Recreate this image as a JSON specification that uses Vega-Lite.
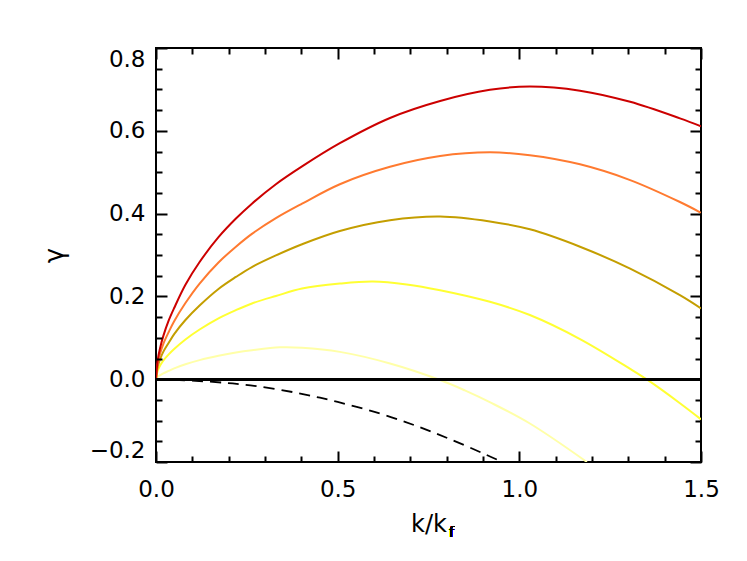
{
  "$schema": "https://vega.github.io/schema/vega-lite/v6.json",
  "width": 545,
  "height": 414,
  "autosize": "none",
  "padding": {"left": 156, "top": 48, "right": 46, "bottom": 99},
  "background": "white",
  "config": {
    "view": {"stroke": "black", "strokeWidth": 2},
    "axis": {
      "grid": false, "domain": false, "zindex": 2,
      "labelFont": "DejaVu Sans", "labelFontSize": 23, "labelColor": "black",
      "titleFont": "DejaVu Sans", "titleFontWeight": "normal", "titleColor": "black"
    }
  },
  "datasets": {
    "curves": [
      {"s": "c1", "k": 0, "g": 0}, {"s": "c1", "k": 0.005, "g": 0.048}, {"s": "c1", "k": 0.012, "g": 0.078}, {"s": "c1", "k": 0.02, "g": 0.104}, {"s": "c1", "k": 0.035, "g": 0.142}, {"s": "c1", "k": 0.05, "g": 0.172}, {"s": "c1", "k": 0.081, "g": 0.228}, {"s": "c1", "k": 0.12, "g": 0.283}, {"s": "c1", "k": 0.172, "g": 0.343}, {"s": "c1", "k": 0.22, "g": 0.388}, {"s": "c1", "k": 0.264, "g": 0.424}, {"s": "c1", "k": 0.33, "g": 0.471}, {"s": "c1", "k": 0.402, "g": 0.514}, {"s": "c1", "k": 0.506, "g": 0.57}, {"s": "c1", "k": 0.644, "g": 0.631}, {"s": "c1", "k": 0.782, "g": 0.672}, {"s": "c1", "k": 0.919, "g": 0.699}, {"s": "c1", "k": 1.029, "g": 0.707}, {"s": "c1", "k": 1.167, "g": 0.697}, {"s": "c1", "k": 1.305, "g": 0.67}, {"s": "c1", "k": 1.442, "g": 0.63}, {"s": "c1", "k": 1.5, "g": 0.611},
      {"s": "c2", "k": 0, "g": 0}, {"s": "c2", "k": 0.005, "g": 0.039}, {"s": "c2", "k": 0.012, "g": 0.064}, {"s": "c2", "k": 0.02, "g": 0.085}, {"s": "c2", "k": 0.035, "g": 0.114}, {"s": "c2", "k": 0.05, "g": 0.14}, {"s": "c2", "k": 0.081, "g": 0.184}, {"s": "c2", "k": 0.12, "g": 0.231}, {"s": "c2", "k": 0.172, "g": 0.282}, {"s": "c2", "k": 0.22, "g": 0.32}, {"s": "c2", "k": 0.264, "g": 0.351}, {"s": "c2", "k": 0.33, "g": 0.389}, {"s": "c2", "k": 0.402, "g": 0.424}, {"s": "c2", "k": 0.506, "g": 0.471}, {"s": "c2", "k": 0.644, "g": 0.513}, {"s": "c2", "k": 0.782, "g": 0.539}, {"s": "c2", "k": 0.919, "g": 0.548}, {"s": "c2", "k": 1.029, "g": 0.541}, {"s": "c2", "k": 1.167, "g": 0.519}, {"s": "c2", "k": 1.305, "g": 0.481}, {"s": "c2", "k": 1.442, "g": 0.428}, {"s": "c2", "k": 1.5, "g": 0.402},
      {"s": "c3", "k": 0, "g": 0}, {"s": "c3", "k": 0.005, "g": 0.031}, {"s": "c3", "k": 0.012, "g": 0.05}, {"s": "c3", "k": 0.02, "g": 0.066}, {"s": "c3", "k": 0.035, "g": 0.088}, {"s": "c3", "k": 0.05, "g": 0.109}, {"s": "c3", "k": 0.081, "g": 0.143}, {"s": "c3", "k": 0.12, "g": 0.178}, {"s": "c3", "k": 0.172, "g": 0.218}, {"s": "c3", "k": 0.22, "g": 0.247}, {"s": "c3", "k": 0.264, "g": 0.271}, {"s": "c3", "k": 0.33, "g": 0.299}, {"s": "c3", "k": 0.402, "g": 0.326}, {"s": "c3", "k": 0.506, "g": 0.358}, {"s": "c3", "k": 0.644, "g": 0.384}, {"s": "c3", "k": 0.782, "g": 0.393}, {"s": "c3", "k": 0.919, "g": 0.381}, {"s": "c3", "k": 1.029, "g": 0.362}, {"s": "c3", "k": 1.167, "g": 0.32}, {"s": "c3", "k": 1.305, "g": 0.267}, {"s": "c3", "k": 1.442, "g": 0.203}, {"s": "c3", "k": 1.5, "g": 0.171},
      {"s": "c4", "k": 0, "g": 0}, {"s": "c4", "k": 0.005, "g": 0.021}, {"s": "c4", "k": 0.012, "g": 0.034}, {"s": "c4", "k": 0.02, "g": 0.045}, {"s": "c4", "k": 0.035, "g": 0.06}, {"s": "c4", "k": 0.05, "g": 0.073}, {"s": "c4", "k": 0.081, "g": 0.096}, {"s": "c4", "k": 0.12, "g": 0.12}, {"s": "c4", "k": 0.172, "g": 0.147}, {"s": "c4", "k": 0.22, "g": 0.167}, {"s": "c4", "k": 0.264, "g": 0.183}, {"s": "c4", "k": 0.33, "g": 0.201}, {"s": "c4", "k": 0.402, "g": 0.219}, {"s": "c4", "k": 0.506, "g": 0.231}, {"s": "c4", "k": 0.597, "g": 0.236}, {"s": "c4", "k": 0.69, "g": 0.229}, {"s": "c4", "k": 0.782, "g": 0.215}, {"s": "c4", "k": 0.919, "g": 0.187}, {"s": "c4", "k": 1.029, "g": 0.155}, {"s": "c4", "k": 1.167, "g": 0.097}, {"s": "c4", "k": 1.305, "g": 0.025}, {"s": "c4", "k": 1.355, "g": -0.003}, {"s": "c4", "k": 1.442, "g": -0.058}, {"s": "c4", "k": 1.5, "g": -0.097},
      {"s": "c5", "k": 0, "g": 0}, {"s": "c5", "k": 0.005, "g": 0.006}, {"s": "c5", "k": 0.012, "g": 0.01}, {"s": "c5", "k": 0.02, "g": 0.014}, {"s": "c5", "k": 0.035, "g": 0.02}, {"s": "c5", "k": 0.05, "g": 0.026}, {"s": "c5", "k": 0.081, "g": 0.036}, {"s": "c5", "k": 0.12, "g": 0.046}, {"s": "c5", "k": 0.172, "g": 0.0565}, {"s": "c5", "k": 0.22, "g": 0.0645}, {"s": "c5", "k": 0.264, "g": 0.07}, {"s": "c5", "k": 0.341, "g": 0.077}, {"s": "c5", "k": 0.402, "g": 0.076}, {"s": "c5", "k": 0.506, "g": 0.066}, {"s": "c5", "k": 0.644, "g": 0.038}, {"s": "c5", "k": 0.782, "g": -0.002}, {"s": "c5", "k": 0.85, "g": -0.027}, {"s": "c5", "k": 0.92, "g": -0.056}, {"s": "c5", "k": 1.029, "g": -0.107}, {"s": "c5", "k": 1.186, "g": -0.2},
      {"s": "d", "k": 0, "g": 0}, {"s": "d", "k": 0.149, "g": -0.006}, {"s": "d", "k": 0.26, "g": -0.015}, {"s": "d", "k": 0.388, "g": -0.033}, {"s": "d", "k": 0.5, "g": -0.055}, {"s": "d", "k": 0.617, "g": -0.083}, {"s": "d", "k": 0.72, "g": -0.114}, {"s": "d", "k": 0.81, "g": -0.145}, {"s": "d", "k": 0.91, "g": -0.183}, {"s": "d", "k": 0.953, "g": -0.2}
    ]
  },
  "data": {"name": "curves"},
  "resolve": {"axis": {"x": "independent", "y": "independent"}},
  "layer": [
    {
      "transform": [{"filter": "datum.s === 'c5'"}],
      "mark": {"type": "line", "color": "#ffffa8", "strokeWidth": 2, "interpolate": "catmull-rom", "clip": true},
      "encoding": {
        "x": {"field": "k", "type": "quantitative", "scale": {"domain": [0, 1.5], "nice": false, "zero": false}, "axis": null},
        "y": {"field": "g", "type": "quantitative", "scale": {"domain": [-0.2, 0.8], "nice": false, "zero": false}, "axis": null}
      }
    },
    {
      "transform": [{"filter": "datum.s === 'c4'"}],
      "mark": {"type": "line", "color": "#ffff33", "strokeWidth": 2, "interpolate": "catmull-rom", "clip": true},
      "encoding": {
        "x": {"field": "k", "type": "quantitative", "axis": {"orient": "top", "zindex": 2, "values": [0.1,0.2,0.3,0.4,0.6,0.7,0.8,0.9,1.1,1.2,1.3,1.4], "ticks": true, "tickSize": -6, "tickColor": "#000000", "tickWidth": 2, "tickOpacity": 1, "labels": false, "title": ""}},
        "y": {"field": "g", "type": "quantitative", "axis": {"orient": "right", "zindex": 2, "values": [-0.15,-0.1,-0.05,0.05,0.1,0.15,0.25,0.3,0.35,0.45,0.5,0.55,0.65,0.7,0.75], "ticks": true, "tickSize": -6, "tickColor": "#000000", "tickWidth": 2, "tickOpacity": 1, "labels": false, "title": ""}}
      }
    },
    {
      "transform": [{"filter": "datum.s === 'c3'"}],
      "mark": {"type": "line", "color": "#c49e00", "strokeWidth": 2, "interpolate": "catmull-rom", "clip": true},
      "encoding": {
        "x": {"field": "k", "type": "quantitative", "axis": {"orient": "bottom", "zindex": 2, "values": [0.1,0.2,0.3,0.4,0.6,0.7,0.8,0.9,1.1,1.2,1.3,1.4], "ticks": true, "tickSize": -6, "tickColor": "#000000", "tickWidth": 2, "tickOpacity": 1, "labels": false, "title": ""}},
        "y": {"field": "g", "type": "quantitative", "axis": {"orient": "left", "zindex": 2, "values": [-0.15,-0.1,-0.05,0.05,0.1,0.15,0.25,0.3,0.35,0.45,0.5,0.55,0.65,0.7,0.75], "ticks": true, "tickSize": -6, "tickColor": "#000000", "tickWidth": 2, "tickOpacity": 1, "labels": false, "title": ""}}
      }
    },
    {
      "transform": [{"filter": "datum.s === 'c2'"}],
      "mark": {"type": "line", "color": "#ff7a30", "strokeWidth": 2, "interpolate": "catmull-rom", "clip": true},
      "encoding": {
        "x": {"field": "k", "type": "quantitative", "axis": {"orient": "top", "zindex": 2, "values": [0, 0.5, 1, 1.5], "ticks": true, "tickSize": -11, "tickColor": "#000000", "tickWidth": 2, "tickOpacity": 1, "labels": false, "title": ""}},
        "y": {"field": "g", "type": "quantitative", "axis": {"orient": "right", "zindex": 2, "values": [-0.2, 0, 0.2, 0.4, 0.6, 0.8], "ticks": true, "tickSize": -11, "tickColor": "#000000", "tickWidth": 2, "tickOpacity": 1, "labels": false, "title": ""}}
      }
    },
    {
      "transform": [{"filter": "datum.s === 'c1'"}],
      "mark": {"type": "line", "color": "#cc0000", "strokeWidth": 2, "interpolate": "catmull-rom", "clip": true},
      "encoding": {
        "x": {"field": "k", "type": "quantitative", "axis": {"orient": "bottom", "zindex": 2, "values": [0, 0.5, 1, 1.5], "format": ".1f", "ticks": true, "tickSize": -11, "tickColor": "#000000", "tickWidth": 2, "tickOpacity": 1, "labelFlush": false, "labelPadding": 27, "title": "k/k", "titleFontSize": 24, "titlePadding": 11}},
        "y": {"field": "g", "type": "quantitative", "axis": {"orient": "left", "zindex": 2, "values": [-0.2, 0, 0.2, 0.4, 0.6, 0.8], "format": ".1f", "ticks": true, "tickSize": -11, "tickColor": "#000000", "tickWidth": 2, "tickOpacity": 1, "labelPadding": 22, "labelFlush": true, "title": "γ", "titleFontSize": 26, "titlePadding": 22}}
      }
    },
    {
      "transform": [{"filter": "datum.s === 'd'"}],
      "mark": {"type": "line", "color": "black", "strokeWidth": 1.8, "strokeDash": [11, 7], "interpolate": "catmull-rom", "clip": true},
      "encoding": {
        "x": {"field": "k", "type": "quantitative", "axis": null},
        "y": {"field": "g", "type": "quantitative", "axis": null}
      }
    },
    {
      "mark": {"type": "rule", "color": "black", "strokeWidth": 2},
      "encoding": {"y": {"datum": 0, "axis": null}}
    },
    {
      "mark": {"type": "text", "text": "f", "font": "DejaVu Sans", "fontSize": 14, "fontWeight": "normal", "fill": "#000000", "dx": 23, "dy": 71, "baseline": "middle"},
      "encoding": {"x": {"datum": 0.75, "axis": null}, "y": {"datum": -0.2, "axis": null}}
    }
  ]
}
